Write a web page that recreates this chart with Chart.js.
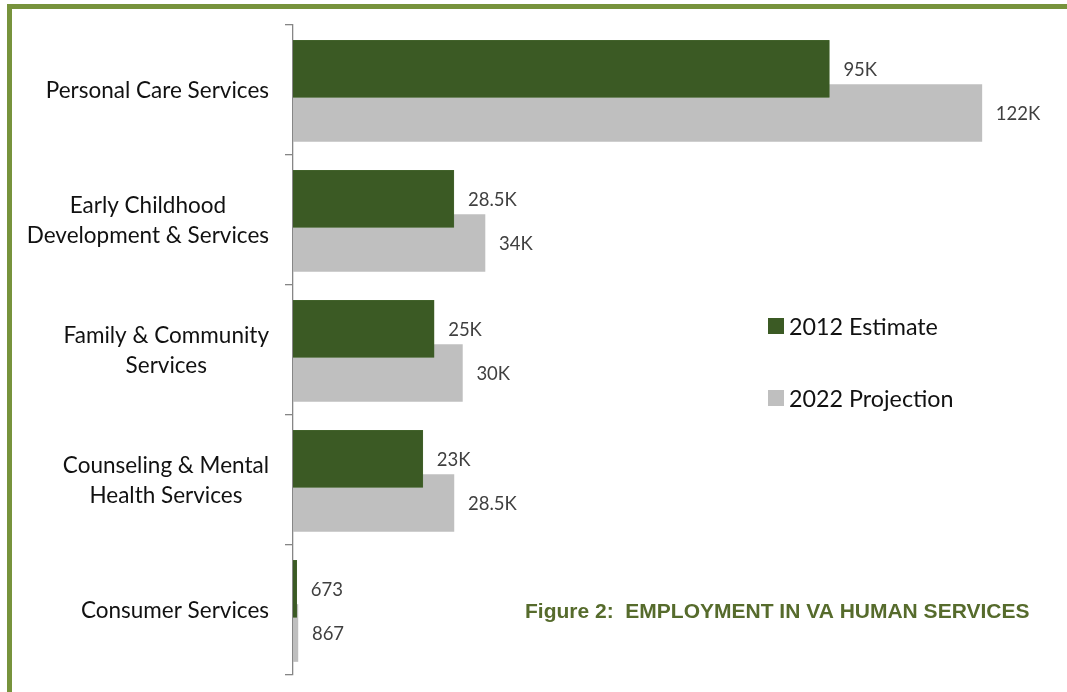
<!DOCTYPE html>
<html><head><meta charset="utf-8">
<script src="https://cdn.jsdelivr.net/npm/chart.js@4.4.1/dist/chart.umd.min.js"></script>
<style>
html,body{margin:0;padding:0;background:#fff;}
#wrap{position:relative;width:1067px;height:692px;overflow:hidden;background:#fff;}
#frame{position:absolute;left:7px;top:4px;width:1100px;height:720px;border-top:5px solid #77933c;border-left:5px solid #77933c;pointer-events:none;}
canvas{position:absolute;left:0;top:0;}
</style></head><body>
<div id="wrap"><canvas id="c" width="1067" height="692"></canvas><div id="frame"></div></div>
<script>
// ---- data ----
const categories = [
  ["Personal Care Services"],
  ["Early Childhood", "Development & Services"],
  ["Family & Community", "Services"],
  ["Counseling & Mental", "Health Services"],
  ["Consumer Services"]
];
const seriesNames = ["2012 Estimate", "2022 Projection"];
const estimate2012 = [95, 28.5, 25, 23, 0.673];      // thousands
const projection2022 = [122, 34, 30, 28.5, 0.867];   // thousands
const xMin = 0, xMax = 130;
const figureTitle = "Figure 2:  EMPLOYMENT IN VA HUMAN SERVICES";

// ---- style ----
const GREEN = '#3b5a24', GRAY = '#bfbfbf';
const OFF_A = -0.162, OFF_B = 0.177;
const fmt = v => v >= 1 ? v + 'K' : String(Math.round(v * 1000));

const labelPlugin = {
  id: 'decor',
  afterDatasetsDraw(chart) {
    const ctx = chart.ctx;
    ctx.save();
    // value labels
    ctx.font = '18.5px Lato';
    ctx.fillStyle = '#404040';
    ctx.textBaseline = 'middle';
    ctx.textAlign = 'left';
    chart.data.datasets.forEach((ds, di) => {
      const meta = chart.getDatasetMeta(di);
      meta.data.forEach((el, i) => {
        ctx.fillText(fmt(ds.data[i].x), el.x + 14, el.y + 1);
      });
    });
    // category labels
    const ys = chart.scales.yCat;
    ctx.font = '22.5px Lato';
    ctx.fillStyle = '#111';
    ctx.textAlign = 'center';
    categories.forEach((lines, i) => {
      const cy = ys.getPixelForTick(i);
      const w = Math.max(...lines.map(l => ctx.measureText(l).width));
      const cx = 269 - w / 2;
      const lh = 30;
      lines.forEach((l, k) => {
        ctx.fillText(l, cx, cy + (k - (lines.length - 1) / 2) * lh + 1);
      });
    });
    // legend
    ctx.textAlign = 'left';
    ctx.font = '23.3px Lato';
    chart.data.datasets.forEach((ds, di) => {
      const top = 318 + di * 72;
      ctx.fillStyle = ds.backgroundColor;
      ctx.fillRect(768, top, 16, 16);
      ctx.fillStyle = '#111';
      ctx.fillText(ds.label, 789, top + 9);
    });
    // figure title
    ctx.font = 'bold 21px "Liberation Sans Narrow", "Liberation Sans", Arial';
    ctx.fillStyle = '#566b2c';
    ctx.fillText(figureTitle, 525, 612);
    ctx.restore();
  }
};

new Chart(document.getElementById('c'), {
  type: 'bar',
  data: {
    datasets: [
      { label: seriesNames[0], data: estimate2012.map((v, i) => ({ x: v, y: i + OFF_A })),
        backgroundColor: GREEN, borderColor: '#4a6a33', borderWidth: 0.5 },
      { label: seriesNames[1], data: projection2022.map((v, i) => ({ x: v, y: i + OFF_B })),
        backgroundColor: GRAY, borderWidth: 0 }
    ]
  },
  options: {
    indexAxis: 'y',
    responsive: false,
    animation: false,
    grouped: false,
    barThickness: 57,
    layout: { padding: { left: 285, right: 40, top: 25, bottom: 17 } },
    scales: {
      x: { type: 'linear', min: xMin, max: xMax, display: false },
      y: { type: 'linear', min: -0.5, max: categories.length - 0.5, reverse: true, offset: false, display: false },
      yCat: {
        type: 'category', position: 'left', labels: categories.map(c => c.join(' ')),
        offset: true,
        grid: { display: true, drawOnChartArea: false, offset: true, tickLength: 8, color: '#868686', lineWidth: 1.3 },
        border: { display: true, color: '#868686', width: 1.3 },
        ticks: { display: false }
      }
    },
    plugins: { legend: { display: false }, tooltip: { enabled: false } }
  },
  plugins: [labelPlugin]
});
</script>
</body></html>
